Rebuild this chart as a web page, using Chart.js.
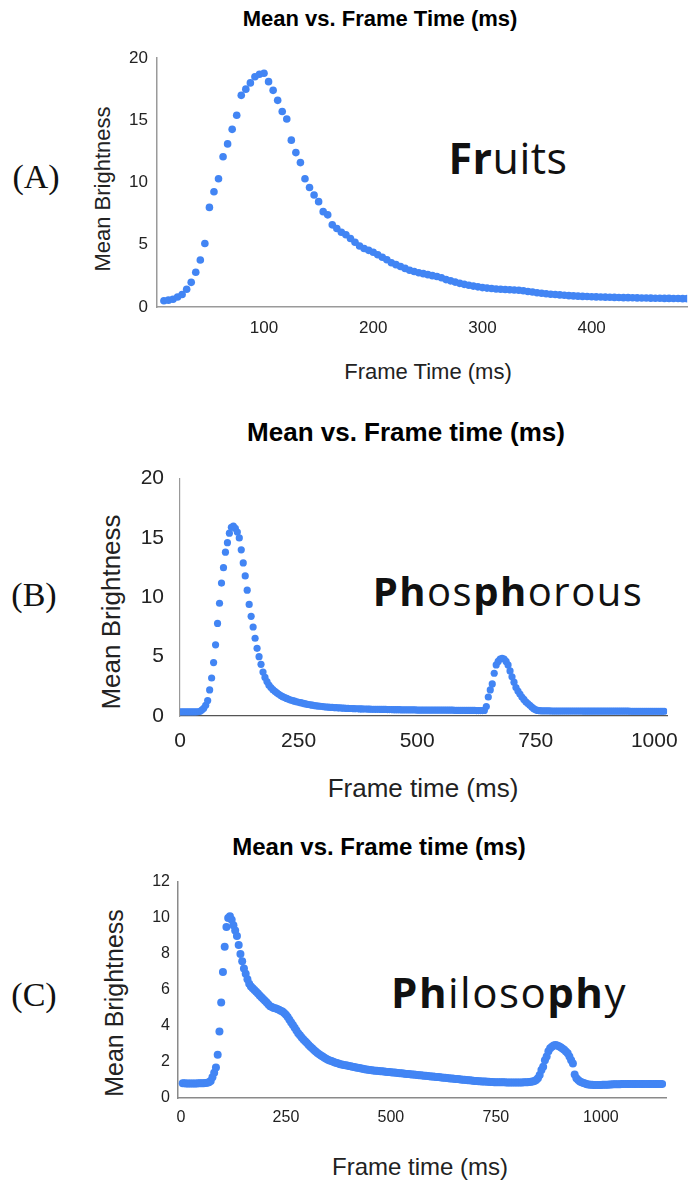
<!DOCTYPE html>
<html lang="en">
<head>
<meta charset="UTF-8">
<title>Mean Brightness vs. Frame Time</title>
<style>
  body { margin: 0; background: #fff; font-family: 'Liberation Sans', Arial, sans-serif; color: #222; }
  .page { position: relative; width: 691px; height: 1181px; overflow: hidden; }
  canvas { position: absolute; left: 0; }
  .txt { position: absolute; transform: translate(-50%, -50%); white-space: nowrap; line-height: 1; }
  .title { font-weight: bold; color: #000; }
  .ytitle { transform: translate(-50%, -50%) rotate(-90deg); }
  .tag { font-family: 'Liberation Serif', 'Times New Roman', serif; color: #111; }
  .word { font-family: 'Open Sans', Lato, sans-serif; color: #111; }
  .word b { font-weight: 700; }
</style>
</head>
<body>
<div class="page">
  <!-- (A) -->
  <div class="txt title" style="left:380px; top:19px; font-size:22px">Mean vs. Frame Time (ms)</div>
  <div class="txt tag" style="left:36px; top:177px; font-size:34px">(A)</div>
  <div class="txt ytitle" style="left:103px; top:189px; font-size:22px">Mean Brightness</div>
  <div class="txt" style="left:428px; top:372px; font-size:22px">Frame Time (ms)</div>
  <div class="txt word" style="left:508px; top:157px; font-size:43px; letter-spacing:0.5px"><b>Fr</b>uits</div>
  <canvas id="chartA" width="691" height="345" style="top:0px"></canvas>

  <!-- (B) -->
  <div class="txt title" style="left:406px; top:432px; font-size:26px">Mean vs. Frame time (ms)</div>
  <div class="txt tag" style="left:34px; top:595px; font-size:34px">(B)</div>
  <div class="txt ytitle" style="left:111px; top:612px; font-size:26px">Mean Brightness</div>
  <div class="txt" style="left:423px; top:788px; font-size:26px">Frame time (ms)</div>
  <div class="txt word" style="left:508px; top:591px; font-size:40px; letter-spacing:1.5px"><b>Ph</b>os<b>ph</b>orous</div>
  <canvas id="chartB" width="691" height="310" style="top:450px"></canvas>

  <!-- (C) -->
  <div class="txt title" style="left:379px; top:847px; font-size:24px">Mean vs. Frame time (ms)</div>
  <div class="txt tag" style="left:34px; top:995px; font-size:34px">(C)</div>
  <div class="txt ytitle" style="left:114px; top:1003px; font-size:25px">Mean Brightness</div>
  <div class="txt" style="left:420px; top:1167px; font-size:24px">Frame time (ms)</div>
  <div class="txt word" style="left:509px; top:992px; font-size:42px; letter-spacing:1.5px"><b>Ph</b>iloso<b>ph</b>y</div>
  <canvas id="chartC" width="691" height="280" style="top:860px"></canvas>
</div>

<script src="https://cdn.jsdelivr.net/npm/chart.js"></script>
<script>
  // frames were captured at 240 fps, so frame n sits at n * FRAME_MS
  const FRAME_MS = 1000 / 240;
  const BLUE = '#4285f4';

  // (A) Fruits - mean brightness per frame, starting at frame 2
  const fruitsStart = 2;
  const fruitsMean = [
    0.5, 0.55, 0.62, 0.8, 1.0, 1.42, 1.98, 2.79, 3.77, 5.1, 8.0, 9.26,
    10.3, 12.07, 13.1, 14.27, 15.4, 17.0, 17.5, 18.0, 18.5, 18.7, 18.77, 18.1,
    17.4, 16.6, 15.7, 15.1, 13.4, 12.4, 11.6, 10.3, 9.6, 9.0, 8.46, 7.66,
    7.4, 6.6, 6.3, 6.0, 5.8, 5.5, 5.2, 4.9, 4.7, 4.55, 4.4, 4.2,
    4.0, 3.8, 3.55, 3.4, 3.25, 3.1, 2.95, 2.85, 2.75, 2.68, 2.6, 2.52,
    2.45, 2.35, 2.2, 2.1, 2.0, 1.9, 1.82, 1.75, 1.68, 1.62, 1.56, 1.52,
    1.48, 1.45, 1.43, 1.41, 1.39, 1.37, 1.34, 1.3, 1.25, 1.2, 1.15, 1.11,
    1.07, 1.03, 1.0, 0.97, 0.94, 0.91, 0.89, 0.87, 0.85, 0.84, 0.82, 0.81,
    0.8, 0.79, 0.78, 0.77, 0.76, 0.75, 0.75, 0.74, 0.73, 0.72, 0.72, 0.71,
    0.7, 0.7, 0.69, 0.69, 0.68, 0.68, 0.67, 0.67
  ];
  const fruitsXTicks = [100, 200, 300, 400];
  const fruitsYTicks = [0, 5, 10, 15, 20];

  // (B) Phosphorous - starting at frame 0
  const phosStart = 0;
  const phosMean = [
    0.35, 0.35, 0.35, 0.35, 0.35, 0.35, 0.35, 0.35, 0.35, 0.36, 0.38, 0.5,
    0.65, 0.9, 1.3, 2.2, 3.2, 4.5, 6.0, 7.8, 9.5, 11.2, 12.5, 13.8,
    14.6, 15.4, 15.9, 16.0, 15.8, 15.5, 15.0, 14.0, 12.9, 11.8, 10.6, 9.4,
    8.4, 7.5, 6.55, 5.7, 5.0, 4.35, 3.7, 3.25, 2.9, 2.6, 2.4, 2.22,
    2.08, 1.95, 1.83, 1.72, 1.63, 1.55, 1.48, 1.41, 1.35, 1.3, 1.25, 1.2,
    1.16, 1.12, 1.08, 1.04, 1.0, 0.97, 0.94, 0.91, 0.88, 0.86, 0.84, 0.82,
    0.8, 0.78, 0.76, 0.75, 0.73, 0.72, 0.71, 0.7, 0.69, 0.68, 0.67, 0.66,
    0.65, 0.64, 0.63, 0.63, 0.62, 0.61, 0.61, 0.6, 0.6, 0.59, 0.59, 0.58,
    0.58, 0.57, 0.57, 0.56, 0.56, 0.56, 0.55, 0.55, 0.55, 0.54, 0.54, 0.54,
    0.53, 0.53, 0.53, 0.53, 0.52, 0.52, 0.52, 0.52, 0.51, 0.51, 0.51, 0.51,
    0.5, 0.5, 0.5, 0.5, 0.5, 0.5, 0.5, 0.5, 0.5, 0.5, 0.5, 0.5,
    0.5, 0.5, 0.49, 0.49, 0.49, 0.49, 0.49, 0.48, 0.48, 0.48, 0.48, 0.48,
    0.48, 0.47, 0.47, 0.47, 0.47, 0.47, 0.46, 0.46, 0.46, 0.46, 0.47, 0.8,
    1.6, 2.2, 2.7, 3.6, 4.3, 4.6, 4.8, 4.85, 4.8, 4.6, 4.3, 3.8,
    3.3, 2.85, 2.4, 2.1, 1.85, 1.6, 1.4, 1.2, 1.05, 0.9, 0.75, 0.62,
    0.52, 0.47, 0.45, 0.44, 0.44, 0.43, 0.43, 0.43, 0.42, 0.42, 0.42, 0.42,
    0.42, 0.42, 0.42, 0.42, 0.42, 0.42, 0.42, 0.42, 0.42, 0.42, 0.42, 0.42,
    0.41, 0.41, 0.41, 0.41, 0.41, 0.41, 0.41, 0.41, 0.41, 0.41, 0.41, 0.41,
    0.41, 0.41, 0.41, 0.41, 0.41, 0.41, 0.41, 0.41, 0.41, 0.41, 0.41, 0.41,
    0.4, 0.4, 0.4, 0.4, 0.4, 0.4, 0.4, 0.4, 0.4, 0.4, 0.4, 0.4,
    0.4, 0.4, 0.4, 0.4, 0.4, 0.4
  ];
  const phosXTicks = [0, 250, 500, 750, 1000];
  const phosYTicks = [0, 5, 10, 15, 20];

  // (C) Philosophy - starting at frame 1
  const philoStart = 1;
  const philoMean = [
    0.82, 0.82, 0.81, 0.81, 0.81, 0.81, 0.81, 0.81, 0.81, 0.82, 0.82, 0.82,
    0.82, 0.83, 0.85, 0.88, 0.95, 1.15, 1.4, 1.7, 2.4, 3.7, 5.3, 7.0,
    8.4, 9.5, 10.0, 10.1, 9.9, 9.6, 9.3, 9.0, 8.5, 8.0, 7.6, 7.2,
    6.9, 6.6, 6.35, 6.2, 6.1, 6.0, 5.9, 5.8, 5.7, 5.6, 5.5, 5.4,
    5.3, 5.2, 5.1, 5.05, 5.0, 4.98, 4.95, 4.9, 4.85, 4.8, 4.72, 4.62,
    4.5, 4.35, 4.2, 4.05, 3.9, 3.75, 3.6, 3.48, 3.36, 3.25, 3.15, 3.05,
    2.95, 2.85, 2.76, 2.67, 2.58, 2.5, 2.43, 2.36, 2.3, 2.24, 2.18, 2.13,
    2.09, 2.05, 2.01, 1.97, 1.94, 1.91, 1.88, 1.86, 1.84, 1.82, 1.8, 1.78,
    1.76, 1.74, 1.72, 1.7, 1.68, 1.66, 1.64, 1.62, 1.6, 1.59, 1.57, 1.56,
    1.54, 1.53, 1.52, 1.51, 1.5, 1.49, 1.48, 1.47, 1.46, 1.45, 1.44, 1.43,
    1.42, 1.41, 1.4, 1.39, 1.38, 1.37, 1.36, 1.35, 1.34, 1.33, 1.32, 1.31,
    1.3, 1.29, 1.28, 1.27, 1.26, 1.25, 1.24, 1.23, 1.22, 1.21, 1.2, 1.19,
    1.18, 1.17, 1.16, 1.15, 1.14, 1.13, 1.12, 1.11, 1.1, 1.09, 1.08, 1.07,
    1.06, 1.05, 1.04, 1.03, 1.02, 1.01, 1.0, 0.99, 0.98, 0.97, 0.96, 0.95,
    0.94, 0.93, 0.93, 0.92, 0.91, 0.91, 0.9, 0.9, 0.89, 0.89, 0.88, 0.88,
    0.88, 0.87, 0.87, 0.87, 0.87, 0.86, 0.86, 0.86, 0.86, 0.86, 0.86, 0.86,
    0.86, 0.86, 0.86, 0.87, 0.87, 0.88, 0.89, 0.9, 0.92, 0.95, 1.0, 1.1,
    1.28, 1.55, 1.74, 2.1, 2.3, 2.6, 2.76, 2.85, 2.92, 2.94, 2.92, 2.88,
    2.82, 2.75, 2.68, 2.58, 2.48, 2.3, 2.1, 1.92, 1.3, 1.1, 1.0, 0.92,
    0.88, 0.84, 0.8, 0.77, 0.75, 0.74, 0.73, 0.72, 0.72, 0.72, 0.72, 0.72,
    0.73, 0.73, 0.74, 0.74, 0.75, 0.75, 0.76, 0.76, 0.77, 0.77, 0.77, 0.78,
    0.78, 0.78, 0.78, 0.78, 0.78, 0.78, 0.78, 0.78, 0.78, 0.78, 0.78, 0.78,
    0.78, 0.78, 0.78, 0.78, 0.78, 0.78, 0.78, 0.78, 0.78, 0.78, 0.78
  ];
  const philoXTicks = [0, 250, 500, 750, 1000];
  const philoYTicks = [0, 2, 4, 6, 8, 10, 12];

  function toPoints(start, values) {
    return values.map((v, i) => ({ x: (start + i) * FRAME_MS, y: v }));
  }

  function scatterPanel(id, p) {
    const font = { family: "'Liberation Sans', Arial, sans-serif", size: p.tickSize };
    return new Chart(document.getElementById(id), {
      type: 'scatter',
      data: {
        datasets: [{
          data: toPoints(p.start, p.values),
          backgroundColor: BLUE,
          borderWidth: 0,
          pointRadius: p.radius,
          pointHoverRadius: p.radius
        }]
      },
      options: {
        responsive: false,
        animation: false,
        devicePixelRatio: 1,
        events: [],
        layout: { padding: { top: p.padTop, right: p.padRight, left: 0, bottom: 0 } },
        plugins: { legend: { display: false }, tooltip: { enabled: false } },
        scales: {
          x: {
            type: 'linear',
            min: p.xMin,
            max: p.xMax,
            afterBuildTicks: s => { s.ticks = p.xTicks.map(v => ({ value: v })); },
            afterFit: s => { s.height = p.xHeight; },
            grid: { display: false, drawTicks: false },
            border: { display: true, color: p.xAxisColor, width: p.axisWidth },
            ticks: { font, color: '#222', padding: p.xPad, maxRotation: 0, autoSkip: false, callback: v => String(v) }
          },
          y: {
            min: p.yTicks[0],
            max: p.yTicks[p.yTicks.length - 1],
            afterBuildTicks: s => { s.ticks = p.yTicks.map(v => ({ value: v })); },
            afterFit: s => { s.width = p.yWidth; },
            grid: { display: false, drawTicks: false },
            border: { display: true, color: p.yAxisColor, width: p.axisWidth },
            ticks: { font, color: '#222', padding: p.yPad, autoSkip: false, callback: v => String(v) }
          }
        }
      }
    });
  }

  scatterPanel('chartA', {
    start: fruitsStart, values: fruitsMean, xTicks: fruitsXTicks, yTicks: fruitsYTicks,
    xMin: 2, xMax: 487.5, radius: 3.8, tickSize: 17,
    padTop: 58, padRight: 0, yWidth: 157, xHeight: 38, xPad: 11, yPad: 9,
    xAxisColor: '#9a9a9a', yAxisColor: '#9a9a9a', axisWidth: 1.5
  });

  scatterPanel('chartB', {
    start: phosStart, values: phosMean, xTicks: phosXTicks, yTicks: phosYTicks,
    xMin: 0, xMax: 1027, radius: 3.6, tickSize: 21,
    padTop: 24, padRight: 13, yWidth: 180, xHeight: 44, xPad: 13, yPad: 16,
    xAxisColor: '#555', yAxisColor: '#999', axisWidth: 1.2
  });

  scatterPanel('chartC', {
    start: philoStart, values: philoMean, xTicks: philoXTicks, yTicks: philoYTicks,
    xMin: -7, xMax: 1155, radius: 4, tickSize: 16,
    padTop: 22, padRight: 25, yWidth: 178, xHeight: 42, xPad: 10, yPad: 8,
    xAxisColor: '#8a8a8a', yAxisColor: '#8a8a8a', axisWidth: 1.5
  });
</script>
</body>
</html>
